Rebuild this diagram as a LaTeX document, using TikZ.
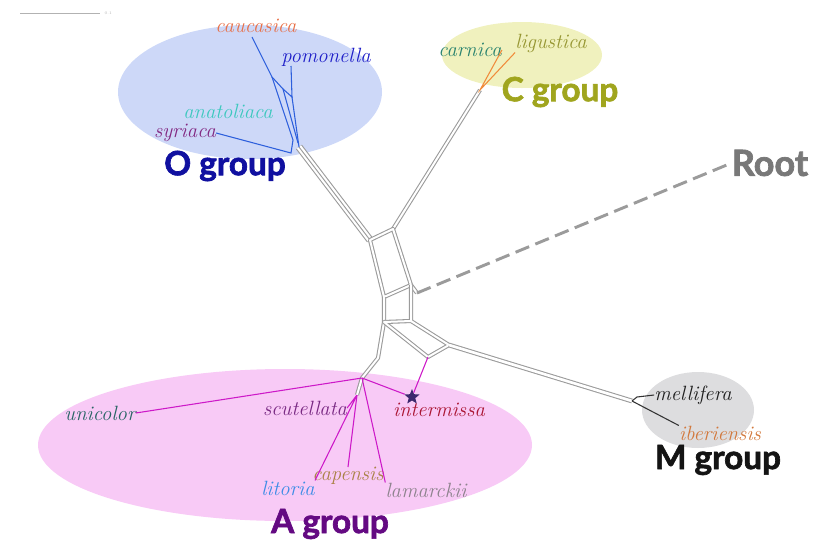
\documentclass[tikz,border=0pt]{standalone}
\usepackage{fontspec}
\newfontfamily\grpfont{Lato}[BoldFeatures={FakeBold=2}]
\usetikzlibrary{shapes.geometric, positioning}

\definecolor{ofill}{RGB}{205,216,248}
\definecolor{cfill}{RGB}{240,241,190}
\definecolor{afill}{RGB}{248,202,246}
\definecolor{mfill}{RGB}{221,221,223}
\definecolor{netc}{RGB}{155,155,155}
\definecolor{oblue}{RGB}{45,95,220}
\definecolor{amag}{RGB}{205,25,200}
\definecolor{corange}{RGB}{240,140,60}
\definecolor{starc}{RGB}{60,40,110}

\begin{document}
\begin{tikzpicture}[x=0.75pt, y=-0.75pt,
	sp/.style={font=\fontsize{15.5}{15.5}\selectfont\itshape, inner sep=0pt},
	grp/.style={font=\grpfont\bfseries\fontsize{25}{25}\selectfont, inner sep=0pt},
	net/.style={draw=netc, double=white, double distance=1.5pt, line width=0.8pt, line join=round},
	oline/.style={draw=oblue, line width=0.8pt},
	aline/.style={draw=amag, line width=0.8pt}]
\useasboundingbox (0,0) rectangle (815,544);

\fill[ofill] (250,92) ellipse [x radius=132, y radius=67];
\fill[cfill] (522,55) ellipse [x radius=80, y radius=33];
\fill[afill] (285,445) ellipse [x radius=247, y radius=76];
\fill[mfill] (698,410) ellipse [x radius=56, y radius=38];

% scale bar
\coordinate (s0) at (20,13); \coordinate (s1) at (100,13);
\draw[gray!60, line width=0.4pt] (s0) -- (s1);
\node[gray!60, font=\fontsize{3}{3}\selectfont, right=0pt of s1] {0.1};

% taxa
\node[sp, text={rgb,255:red,232;green,112;blue,72}] (cau) at (256,26) {caucasica};
\node[sp, text={rgb,255:red,30;green,30;blue,200}] (pom) at (326,57) {pomonella};
\node[sp, text={rgb,255:red,60;green,200;blue,190}] (ana) at (228,111) {anatoliaca};
\node[sp, text={rgb,255:red,130;green,40;blue,130}] (syr) at (185,133) {syriaca};
\node[sp, text={rgb,255:red,40;green,130;blue,110}] (car) at (470,50) {carnica};
\node[sp, text={rgb,255:red,150;green,150;blue,50}] (lig) at (551,43) {ligustica};
\node[sp, text={rgb,255:red,30;green,30;blue,30}] (mel) at (693,395) {mellifera};
\node[sp, text={rgb,255:red,210;green,120;blue,60}] (ibe) at (720,433) {iberiensis};
\node[sp, text={rgb,255:red,40;green,100;blue,100}] (uni) at (100,413) {unicolor};
\node[sp, text={rgb,255:red,120;green,40;blue,130}] (scu) at (305,408) {scutellata};
\node[sp, text={rgb,255:red,170;green,20;blue,50}] (int) at (439,410) {intermissa};
\node[sp, text={rgb,255:red,60;green,140;blue,230}] (lit) at (288,488) {litoria};
\node[sp, text={rgb,255:red,170;green,130;blue,70}] (cap) at (348,476) {capensis};
\node[sp, text={rgb,255:red,140;green,130;blue,140}] (lam) at (426,490) {lamarckii};

% groups
\node[grp, text={rgb,255:red,16;green,16;blue,160}] (og) at (225,166) {O group};
\node[grp, text={rgb,255:red,160;green,165;blue,30}] (cg) at (560,92) {C group};
\node[grp, text={rgb,255:red,20;green,20;blue,20}] (mg) at (718,460) {M group};
\node[grp, text={rgb,255:red,100;green,10;blue,130}] (ag) at (330,524) {A group};
\node[grp, text={rgb,255:red,120;green,120;blue,120}, font=\grpfont\bfseries\fontsize{27}{27}\selectfont] (rt) at (770,163) {Root};

% splits network
\coordinate (ob) at (299,147);
\coordinate (cb) at (480,90);
\coordinate (b1) at (370,240);
\coordinate (b2) at (393,229);
\coordinate (b3) at (411,285);
\coordinate (b4) at (384,297);
\coordinate (rj) at (417,293);
\coordinate (b5) at (384,322);
\coordinate (b6) at (411,321);
\coordinate (mj) at (449,345);
\coordinate (ij) at (428,357);
\coordinate (aj) at (378,358);
\coordinate (ak) at (362,378);
\coordinate (al) at (357,395);
\coordinate (mt) at (632,401);
\coordinate (mk) at (637,397);

\draw[net, double distance=4pt] (ob) -- (b1);
\draw[netc, line width=0.7pt] (ob) -- (b1);
\draw[net] (cb) -- (b2);
\draw[net] (b1) -- (b2) -- (b3) -- (b4) -- cycle;
\draw[net] (b3) -- (rj);
\draw[net] (b4) -- (b5) -- (aj) -- (ak) -- (al);
\draw[net] (b3) -- (b6) -- (mj) -- (ij) -- (b5) -- (b6);
\draw[net, double distance=2pt] (mj) -- (mt);
\draw[netc, dashed, dash pattern=on 11pt off 5pt, line width=2.2pt] (rj) -- (rt.west);

% O group
\coordinate (ct) at (252,37);
\coordinate (pt) at (291,66);
\coordinate (o1) at (272,77);
\coordinate (o2) at (283,89);
\coordinate (o3) at (292,97);
\coordinate (o4) at (293,140);
\coordinate (o5) at (298,143);
\coordinate (sj) at (291,153);
\draw[oline] (ct) -- (o1) -- (o2) -- (o3) -- (pt);
\draw[oline] (o1) -- (o4) -- (sj) -- (syr.east);
\draw[oline] (o2) -- (o5);
\draw[oline] (o3) -- (ob);

% C group
\draw[corange, line width=0.8pt] (car.east) -- (cb) -- (lig.south west);

% M group
\draw[black!80, line width=0.8pt] (mt) -- (mk) -- (mel.west);
\draw[black!80, line width=0.8pt] (mt) -- (ibe.north west);

% A group
\node[star, star points=5, star point ratio=2.3, fill=starc, inner sep=0pt, minimum size=12pt] (st) at (412,397) {};
\draw[aline] (uni.east) -- (ak) -- (st) -- (ij);
\draw[aline] (scu.east) -- (al) -- (lit.north east);
\draw[aline] (al) -- (cap.north);
\draw[aline] (ak) -- (lam.north west);
\end{tikzpicture}
\end{document}
